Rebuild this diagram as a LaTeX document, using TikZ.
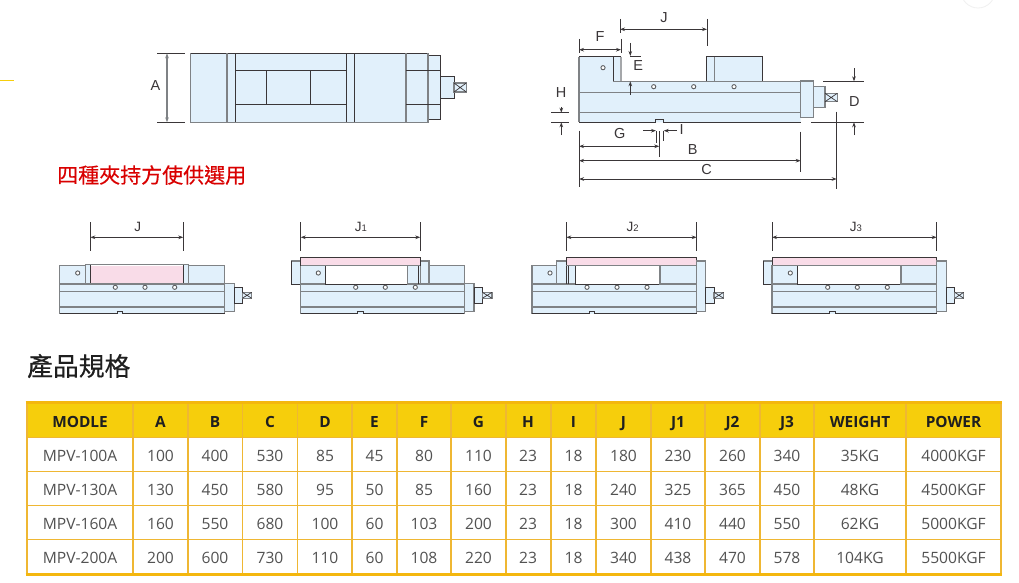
\documentclass[tikz,border=0pt]{standalone}
\usepackage{fontspec}
\setmainfont{Open Sans}
\newfontfamily\cjkfont[FakeBold=0.35]{Noto Sans CJK TC}
\newfontfamily\lblfont{Liberation Sans}
\usetikzlibrary{arrows.meta}
\definecolor{vblue}{HTML}{E1F0FB}
\definecolor{vpink}{HTML}{F9DCE8}
\definecolor{vdark}{HTML}{3A3638}
\definecolor{vgray}{HTML}{7F8285}
\definecolor{hdfill}{HTML}{F6CE0C}
\definecolor{hdline}{HTML}{F4B70E}
\definecolor{rowline}{HTML}{EFB733}
\tikzset{
  x=1pt,y=-1pt,
  dk/.style={draw=vdark,line width=1pt},
  gy/.style={draw=vgray,line width=1.2pt},
  bl/.style={fill=vblue},
  pk/.style={fill=vpink},
  dim/.style={draw=vdark,line width=0.9pt},
  dimar/.style={dim,{Stealth[length=5pt,width=3.6pt]}-{Stealth[length=5pt,width=3.6pt]}},
  dimend/.style={dim,-{Stealth[length=5pt,width=3.6pt]}},
  lbl/.style={font=\lblfont\fontsize{14.5}{15}\selectfont,text=vdark,inner sep=0pt},
  lblj/.style={font=\lblfont\fontsize{13.5}{14}\selectfont,text=vdark,inner sep=0pt},
  cell/.style={font=\fontsize{15.6}{17}\selectfont,text=black!68,anchor=base,inner sep=0pt},
  hcell/.style={font=\bfseries\fontsize{15.4}{17}\selectfont,text=black!88,anchor=base,inner sep=0pt}
}
\newcommand{\vhole}[2]{\draw[vgray!75!black,line width=0.9pt,fill=white] (#1,#2) circle[radius=2.1pt];}
% base of a small side view: left, right, notch left, notch right
\newcommand{\vbase}[4]{%
  \fill[vblue] (#1,284) rectangle (#2,313.7);
  \draw[gy] (#1,291.3) -- (#2,291.3);
  \draw[gy] (#1,307) -- (#2,307);
  \draw[gy] (#1,284) -- (#1,313.7);
  \draw[gy] (#2,284) -- (#2,313.7);
  \draw[dk] (#1,313.7) -- (#3,313.7) -- (#3,311) -- (#4,311) -- (#4,313.7) -- (#2,313.7);
}
% drive end: x0 x1 x2 x3, plate top
\newcommand{\vtail}[5]{%
  \path[bl,gy] (#1,#5) rectangle (#2,311.3);
  \path[bl,dk] (#2,287.3) rectangle (#3,303);
  \path[fill=vblue,gy] (#3,292.3) rectangle (#4,298.3);
  \draw[vdark,line width=0.7pt] (#3,292.3) -- (#4,298.3) (#3,298.3) -- (#4,292.3);
}
\newcommand{\vdim}[2]{%
  \draw[dim] (#1,222.3) -- (#1,250.7);
  \draw[dim] (#2,222.3) -- (#2,250.7);
  \draw[dimar] (#1,237.3) -- (#2,237.3);
}
% left outrigger piece of views J1 and J3
\newcommand{\vleft}[2]{%
  \fill[vblue] (#1,261) rectangle (#2,284);
  \draw[gy] (#1,261) -- (#2,261);
  \draw[draw=vdark,line width=0.8pt] (#1,261) -- (#1,284) -- (#2,284);
}
\def\colx{{80,160.5,215,270,325,374.5,424,478.5,528,573.5,623.5,678,732.5,787,860,953.5}}
\newcommand{\trow}[3]{%
  \foreach \t [count=\i from 0] in {#3} {
    \pgfmathsetmacro\cx{\colx[\i]}
    \node[#1] (r#2c\i) at (\cx,#2) {\t};
  }
}
\begin{document}
\begin{tikzpicture}
\useasboundingbox (0,0) rectangle (1019,583);
\fill[white] (0,0) rectangle (1019,583);
% page remnants
\draw[black!6,line width=0.8pt,fill=white] (978,-9) circle[radius=17pt];
\draw[hdfill,line width=1.3pt] (0,80.3) -- (14,80.3);

% ---- top view
\path[bl,gy] (190.7,53.3) rectangle (428,122.3);
\draw[dk] (190.7,53.3) -- (428,53.3);
\draw[gy] (190.7,53.3) -- (190.7,122.3) -- (428,122.3);
\draw[gy] (227,53.3) -- (227,122.3);
\draw[dk] (235.5,53.3) -- (235.5,122.3);
\draw[dk] (346.3,53.3) -- (346.3,122.3);
\draw[dk] (354.3,53.3) -- (354.3,122.3);
\draw[gy] (406,53.3) -- (406,122.3);
\draw[dk] (235.5,70.7) -- (346.3,70.7) (235.5,104.3) -- (346.3,104.3);
\draw[dk] (266.3,70.7) -- (266.3,104.3) (310.3,70.7) -- (310.3,104.3);
\path[bl,dk] (428,55.3) rectangle (440.7,119.3);
\draw[gy] (428,53.3) -- (428,122.3);
\draw[dk] (406,70.7) -- (440.7,70.7) (406,104.3) -- (440.7,104.3);
\path[bl,dk] (440.7,76.3) rectangle (454,98.3);
\path[fill=vblue,gy] (454,83) rectangle (466.3,92);
\draw[vdark,line width=0.7pt] (454,83) -- (466.3,92) (454,92) -- (466.3,83);
\draw[dim] (157,53.3) -- (185.3,53.3) (157,122.3) -- (185.3,122.3);
\draw[dimar,draw=vgray,line width=1.2pt] (167,53.3) -- (167,122.3);
\node[lbl] (lA) at (155.5,86) {A};

% ---- side view
\path[bl] (579,57) -- (613.3,57) -- (613.3,81.3) -- (800.7,81.3) -- (800.7,122.3) -- (579,122.3) -- cycle;
\path[bl] (613.3,57) rectangle (621,81.3);
\path[bl] (706.7,57) rectangle (762.7,81.3);
\draw[gy] (579,57) -- (579,122.3);
\draw[dk] (579,57) -- (613.3,57);
\draw[dk] (613.3,81.3) -- (613.3,57) -- (621,57);
\draw[draw=vgray!70,line width=1.2pt] (621,57) -- (621,81.3);
\draw[gy] (613.3,81.3) -- (800.7,81.3);
\draw[dk] (706.7,81.3) -- (706.7,57) -- (714.7,57);
\draw[gy] (714.7,57) -- (714.7,81.3);
\draw[dk] (714.7,57) -- (762.7,57) -- (762.7,81.3);
\draw[gy] (579,92.7) -- (800.7,92.7);
\draw[gy] (579,112.7) -- (800.7,112.7);
\draw[dk] (579,122.3) -- (655.7,122.3) -- (655.7,119.3) -- (663.7,119.3) -- (663.7,122.3) -- (800.7,122.3);
\path[bl,gy] (800.7,81) rectangle (813.7,117.3);
\path[bl,gy] (813.7,86.7) rectangle (825,107.3);
\path[fill=vblue,gy] (825,93.3) rectangle (837.3,101.7);
\draw[vdark,line width=0.7pt] (825,93.3) -- (837.3,101.7) (825,101.7) -- (837.3,93.3);
\vhole{603}{67.7}\vhole{653.7}{86.7}\vhole{693.7}{86.7}\vhole{734}{86.7}
% dimensions F J
\draw[dim] (579,39) -- (579,53) (621,39) -- (621,53);
\draw[dimar] (579,49.7) -- (621,49.7);
\node[lbl] (lF) at (600,37) {F};
\draw[dim] (620,19) -- (620,33) (707,19) -- (707,46);
\draw[dimar] (620,29.3) -- (707,29.3);
\node[lbl] (lJ) at (664,17.3) {J};
% E
\draw[dimend] (630.3,43) -- (630.3,56);
\draw[dim] (630.3,56) -- (641,56);
\draw[dimend] (630.3,95) -- (630.3,81.3);
\node[lbl] (lE) at (638.3,65.7) {E};
% H
\draw[dim] (551,112.7) -- (569,112.7) (551,122.3) -- (569,122.3);
\draw[dimend] (561.3,107) -- (561.3,112.7);
\draw[dimend] (561.3,135) -- (561.3,122.3);
\node[lbl] (lH) at (561,92.3) {H};
% D
\draw[dim] (823.3,81.3) -- (864,81.3) (811,122.3) -- (864,122.3);
\draw[dimend] (854,68.3) -- (854,81.3);
\draw[dimend] (854,135) -- (854,122.3);
\node[lbl] (lD) at (854.3,101.7) {D};
% I
\draw[dim] (656,131) -- (656,143) (663.7,131) -- (663.7,141);
\draw[dimend] (643.3,130.7) -- (656,130.7);
\draw[dimend] (676.7,130.7) -- (663.7,130.7);
\node[lbl] (lI) at (681.7,130) {I};
% G B C
\draw[dim] (579,130.7) -- (579,187.3);
\draw[dim] (659.3,131) -- (659.3,157.3);
\draw[dimar] (579,146.3) -- (659.3,146.3);
\node[lbl] (lG) at (619.7,134) {G};
\draw[dim] (800.7,131.7) -- (800.7,171.7);
\draw[dimar] (579,160.7) -- (800.7,160.7);
\node[lbl] (lB) at (692.7,150) {B};
\draw[dim] (836.7,111.7) -- (836.7,189.3);
\draw[dimar] (579,179) -- (836.7,179);
\node[lbl] (lC) at (706.7,169.3) {C};

% ---- red caption
\node[anchor=west,inner sep=0pt,text=red!85!black,font=\cjkfont\fontsize{21}{23}\selectfont] (cap) at (57,175) {四種夾持方使供選用};

% ---- view 1 (J)
\vbase{59.7}{224.7}{117.3}{122.7}
\path[bl,gy] (59.7,265.7) rectangle (85.3,284);
\path[bl,gy] (188.7,265.7) rectangle (224.7,284);
\path[bl,gy] (85.3,264.3) rectangle (90.7,284);
\path[bl,gy] (183.3,264.3) rectangle (188.7,284);
\path[pk] (90.7,265.7) rectangle (183.3,284);
\draw[dk] (90.7,264.3) -- (90.7,284) (183.3,264.3) -- (183.3,284);
\draw[gy] (85.3,284) -- (188.7,284);
\draw[gy] (85.3,264.3) -- (188.7,264.3);
\vtail{224.7}{234.3}{242.3}{251.7}{283.7}
\vhole{77.7}{273}\vhole{115.3}{287.3}\vhole{145}{287.3}\vhole{174.7}{287.3}
\vdim{90.3}{183.3}
\node[lblj] (lJ0) at (137.7,226.7) {J};

% ---- view 2 (J1)
\vbase{300.7}{464.3}{357.3}{363.7}
\vleft{291}{300.7}
\path[bl,gy] (300.7,265.7) rectangle (325.7,284);
\draw[dk] (325.7,265.7) -- (325.7,284) -- (407.3,284);
\path[bl,gy] (407.3,265.7) rectangle (420.3,284);
\draw[dk] (418.3,265.7) -- (418.3,284);
\path[bl,gy] (420.3,261) rectangle (429,284);
\path[bl,gy] (429,265.7) rectangle (464.3,284);
\path[pk,dk] (300.7,257.3) rectangle (420.3,265.7);
\draw[gy] (300.7,265.7) -- (420.3,265.7);
\vtail{464.3}{474}{482.3}{492}{283.7}
\vhole{318.3}{273}\vhole{355.7}{287.3}\vhole{385.3}{287.3}\vhole{415.3}{287.3}
\vdim{300.7}{420.3}
\node[lblj] (lJ1) at (361,226.7) {J\fontsize{9.5}{10}\selectfont 1};

% ---- view 3 (J2)
\vbase{532}{696.7}{589.3}{594.7}
\path[bl,gy] (532,265.7) rectangle (556.7,284);
\path[bl,gy] (556.7,261) rectangle (566.3,284);
\path[bl,gy] (566.3,265.7) rectangle (575.7,284);
\draw[dk] (566.3,265.7) -- (566.3,284) (568.3,265.7) -- (568.3,284);
\draw[dk] (575.7,265.7) -- (575.7,284) -- (660,284);
\path[bl,gy] (660,265.7) rectangle (696.7,284);
\path[pk,dk] (566.3,257.3) rectangle (696.7,265.7);
\draw[gy] (566.3,265.7) -- (696.7,265.7);
\vtail{696.7}{705.7}{714}{723.7}{261}
\vhole{550}{273}\vhole{587}{287.3}\vhole{617}{287.3}\vhole{647}{287.3}
\vdim{566.3}{696.7}
\node[lblj] (lJ2) at (632.7,226.7) {J\fontsize{9.5}{10}\selectfont 2};

% ---- view 4 (J3)
\vbase{772}{936.7}{829.3}{835.3}
\vleft{763.3}{772}
\path[bl,gy] (772,265.7) rectangle (797.7,284);
\draw[dk] (797.7,265.7) -- (797.7,284) -- (901,284);
\path[bl,gy] (901,265.7) rectangle (936.7,284);
\path[pk,dk] (772,257.3) rectangle (936.7,265.7);
\draw[gy] (772,265.7) -- (936.7,265.7);
\vtail{936.7}{946.3}{954.7}{963.7}{261}
\vhole{790.3}{273}\vhole{827.7}{287.3}\vhole{857.3}{287.3}\vhole{887.3}{287.3}
\vdim{772}{936.7}
\node[lblj] (lJ3) at (856,226.7) {J\fontsize{9.5}{10}\selectfont 3};

% ---- heading
\node[anchor=west,inner sep=0pt,text=black!88,font=\cjkfont\fontsize{25.8}{28}\selectfont] (head) at (27,366) {產品規格};

% ---- table
\fill[hdfill] (27,402) rectangle (1001,437.5);
\foreach \yy in {437.5,471.3,505.5,539.3}
  \draw[rowline,line width=1.3pt] (27,\yy) -- (1001,\yy);
\foreach \xx in {133,188,242.5,297.5,352,397,451,506,551,596,651,705,760,814,906}
  \draw[rowline,line width=1.3pt] (\xx,402) -- (\xx,573);
\draw[rowline,line width=1.3pt] (27,402) -- (27,573) (1001,402) -- (1001,573);
\draw[hdline,line width=3pt] (25.7,402.5) -- (1002,402.5);
\draw[hdline,line width=3pt] (25.7,574) -- (1002,574);
\trow{hcell}{427}{MODLE,A,B,C,D,E,F,G,H,I,J,J1,J2,J3,WEIGHT,POWER}
\trow{cell}{461}{MPV-100A,100,400,530,85,45,80,110,23,18,180,230,260,340,35KG,4000KGF}
\trow{cell}{495}{MPV-130A,130,450,580,95,50,85,160,23,18,240,325,365,450,48KG,4500KGF}
\trow{cell}{529}{MPV-160A,160,550,680,100,60,103,200,23,18,300,410,440,550,62KG,5000KGF}
\trow{cell}{563}{MPV-200A,200,600,730,110,60,108,220,23,18,340,438,470,578,104KG,5500KGF}
\end{tikzpicture}
\end{document}
